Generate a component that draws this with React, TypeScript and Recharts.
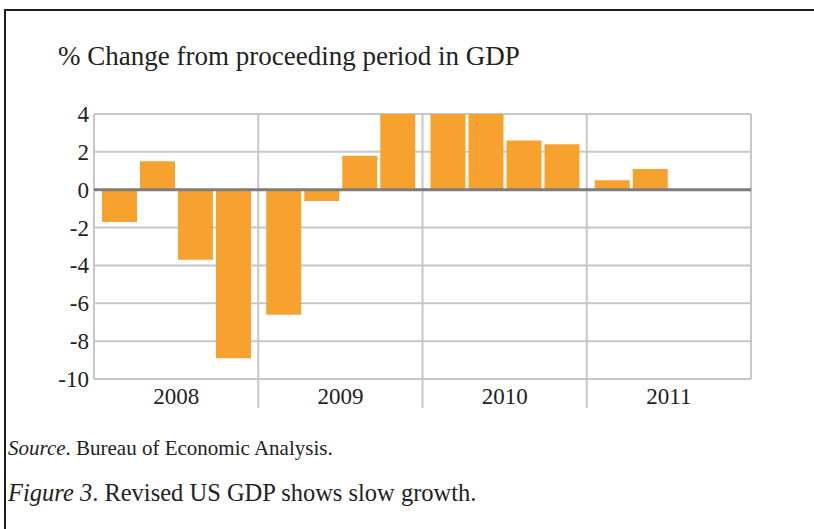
import { BarChart, Bar, XAxis, YAxis, CartesianGrid, ReferenceLine } from 'recharts'

// quarterly % change in GDP
const years = ['2008', '2009', '2010', '2011']
const q1 = [-1.7, -6.6, 4.0, 0.5]
const q2 = [1.5, -0.6, 4.0, 1.1]
const q3 = [-3.7, 1.8, 2.6, null]
const q4 = [-8.9, 4.0, 2.4, null]
const yTicks = [-10, -8, -6, -4, -2, 0, 2, 4]

const data = years.map((year, i) => ({ year, q1: q1[i], q2: q2[i], q3: q3[i], q4: q4[i] }))

const serif = '"Liberation Serif", "Times New Roman", serif'
const barColor = '#F7A12F'
const gridColor = '#c6c6cb'
const textColor = '#222'

const chartW = 814
const chartH = 440
const margin = { top: 114, right: 63, left: 0, bottom: 21 }
const yAxisW = 94
const plotW = chartW - margin.left - margin.right - yAxisW

// year label plus the separator tick that hangs below the axis
const YearTick = (props: any) => {
  const { x, y, payload, index } = props
  const band = plotW / years.length
  return (
    <g>
      {index > 0 && (
        <line x1={x - band / 2} x2={x - band / 2} y1={y} y2={y + 29} stroke={gridColor} strokeWidth={2} />
      )}
      <text x={x} y={y + 25} textAnchor="middle" style={{ fontFamily: serif, fontSize: 23 }} fill={textColor}>
        {payload.value}
      </text>
    </g>
  )
}

const ValueTick = (props: any) => {
  const { x, y, payload } = props
  return (
    <text x={x} y={y + 8} textAnchor="end" style={{ fontFamily: serif, fontSize: 23 }} fill={textColor}>
      {payload.value}
    </text>
  )
}

// grid lines on the year boundaries instead of the band centres
const verticalLines = ({ offset }: any) =>
  years.map((_, i) => offset.left + (i * offset.width) / years.length).concat(offset.left + offset.width)

export default function App() {
  return (
    <div style={{ position: 'absolute', left: 0, top: 0, width: 814, height: 529, background: '#fff', overflow: 'hidden' }}>
      <div
        style={{
          position: 'absolute',
          left: 4,
          top: 9,
          right: -4,
          bottom: -4,
          borderTop: '2px solid #1c1c1c',
          borderLeft: '2px solid #1c1c1c',
        }}
      />
      <div style={{ position: 'absolute', left: 58, top: 43, fontFamily: serif, fontSize: 27, lineHeight: 1, color: textColor, whiteSpace: 'nowrap' }}>
        % Change from proceeding period in GDP
      </div>

      <div style={{ position: 'absolute', left: 0, top: 0 }}>
        <BarChart
          width={chartW}
          height={chartH}
          data={data}
          margin={margin}
          barCategoryGap={8}
          barGap={3}
        >
          <CartesianGrid stroke={gridColor} strokeWidth={2} verticalCoordinatesGenerator={verticalLines} />
          <XAxis
            dataKey="year"
            axisLine={false}
            tickLine={false}
            tickSize={0}
            tickMargin={0}
            height={40}
            interval={0}
            tick={<YearTick />}
          />
          <YAxis
            domain={[-10, 4]}
            ticks={yTicks}
            allowDataOverflow
            width={yAxisW}
            axisLine={false}
            tickLine={false}
            tickSize={0}
            tickMargin={5}
            tick={<ValueTick />}
          />
          <Bar dataKey="q1" fill={barColor} isAnimationActive={false} />
          <Bar dataKey="q2" fill={barColor} isAnimationActive={false} />
          <Bar dataKey="q3" fill={barColor} isAnimationActive={false} />
          <Bar dataKey="q4" fill={barColor} isAnimationActive={false} />
          <ReferenceLine y={0} stroke="#7d7d7d" strokeWidth={3} />
        </BarChart>
      </div>

      <div style={{ position: 'absolute', left: 8, top: 438, fontFamily: serif, fontSize: 21, lineHeight: 1, color: textColor, whiteSpace: 'nowrap' }}>
        <i>Source</i>. Bureau of Economic Analysis.
      </div>
      <div style={{ position: 'absolute', left: 8, top: 481, fontFamily: serif, fontSize: 24.5, lineHeight: 1, color: textColor, whiteSpace: 'nowrap' }}>
        <i>Figure 3</i>. Revised US GDP shows slow growth.
      </div>
    </div>
  )
}
